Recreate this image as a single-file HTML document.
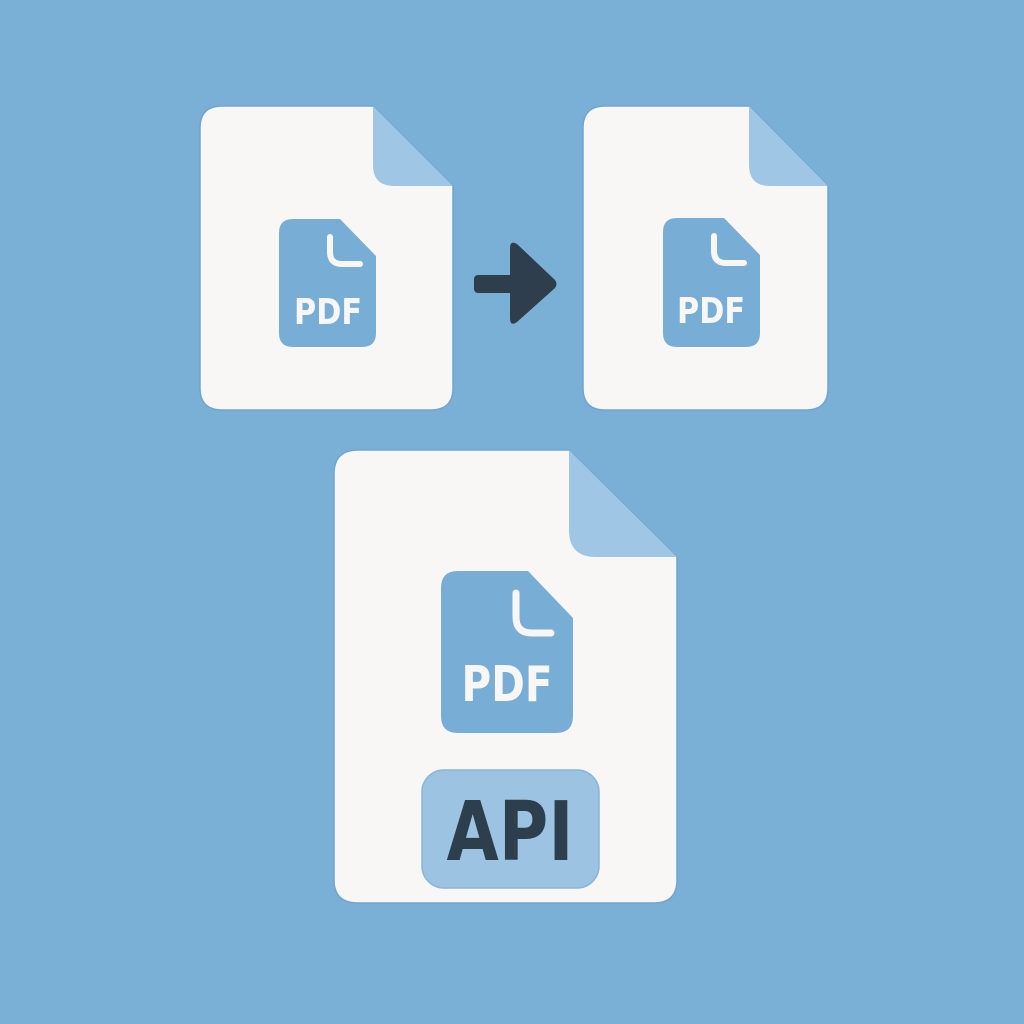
<!DOCTYPE html>
<html><head><meta charset="utf-8"><style>
html,body{margin:0;padding:0;background:#7aafd6;}
svg{display:block}
text{font-family:"DejaVu Sans","Liberation Sans",sans-serif;font-weight:bold}
</style></head><body>
<svg width="1024" height="1024" viewBox="0 0 1024 1024" xmlns="http://www.w3.org/2000/svg">
<rect width="1024" height="1024" fill="#7aafd6"/>
<!-- Doc 1 -->
<path d="M222 106 H373 L453 186 V388 Q453 410 431 410 H222 Q200 410 200 388 V128 Q200 106 222 106 Z" fill="#f8f7f6" stroke="#6ea6d2" stroke-width="1.5"/>
<path d="M373 106 V165 Q373 186 394 186 H453 Z" fill="#a0c6e6"/>
<path d="M293 219 H340 L376 256 V333 Q376 347 362 347 H293 Q279 347 279 333 V233 Q279 219 293 219 Z" fill="#78aed6"/>
<path d="M330 237 V252 Q330 264 342 264 H360" fill="none" stroke="#f8f7f6" stroke-width="6" stroke-linecap="round"/>
<text x="328" y="324" font-size="36" text-anchor="middle" textLength="68" lengthAdjust="spacingAndGlyphs" fill="#f8f7f6">PDF</text>
<!-- Arrow -->
<rect x="474" y="275" width="40" height="18" rx="4" fill="#2e3e4c"/>
<path d="M510 248 Q510 240 517 244 L555 280 Q558 284 555 288 L517 322 Q510 327 510 318 Z" fill="#2e3e4c"/>
<!-- Doc 2 -->
<path d="M605 106 H749 L828 186 V388 Q828 410 806 410 H605 Q583 410 583 388 V128 Q583 106 605 106 Z" fill="#f8f7f6" stroke="#6ea6d2" stroke-width="1.5"/>
<path d="M749 106 V165 Q749 186 770 186 H828 Z" fill="#a0c6e6"/>
<path d="M677 218 H724 L760 255 V333 Q760 347 746 347 H677 Q663 347 663 333 V232 Q663 218 677 218 Z" fill="#78aed6"/>
<path d="M714 236 V251 Q714 263 726 263 H744" fill="none" stroke="#f8f7f6" stroke-width="6" stroke-linecap="round"/>
<text x="711" y="323" font-size="36" text-anchor="middle" textLength="68" lengthAdjust="spacingAndGlyphs" fill="#f8f7f6">PDF</text>
<!-- Doc 3 -->
<path d="M358 450 H569 L677 557 V880 Q677 903 654 903 H358 Q334 903 334 880 V474 Q334 450 358 450 Z" fill="#f8f7f6" stroke="#6ea6d2" stroke-width="1.5"/>
<path d="M569 450 V530 Q569 557 596 557 H677 Z" fill="#a0c6e6"/>
<path d="M458 571 H528 L573 618 V716 Q573 733 556 733 H458 Q441 733 441 716 V588 Q441 571 458 571 Z" fill="#78aed6"/>
<path d="M516 593 V617 Q516 633 532 633 H551" fill="none" stroke="#f8f7f6" stroke-width="7" stroke-linecap="round"/>
<text x="507" y="701" font-size="49" text-anchor="middle" textLength="91" lengthAdjust="spacingAndGlyphs" fill="#f8f7f6">PDF</text>
<rect x="422" y="770" width="177" height="118" rx="22" fill="#9dc3e3" stroke="#86b6dc" stroke-width="1.5"/>
<text x="510" y="860" font-size="82" text-anchor="middle" textLength="127" lengthAdjust="spacingAndGlyphs" fill="#2d3e4c">API</text>
</svg>
</body></html>
